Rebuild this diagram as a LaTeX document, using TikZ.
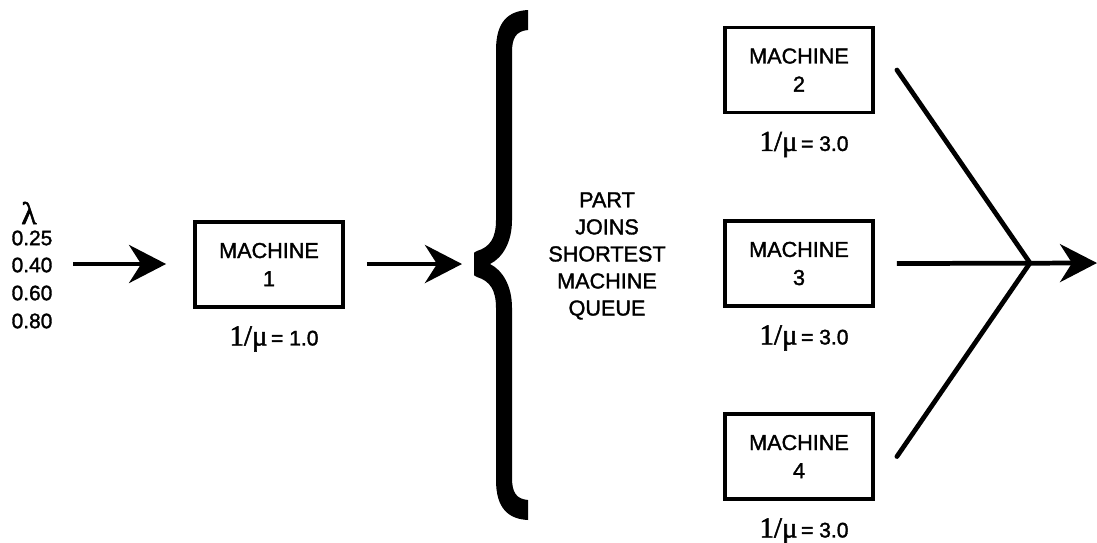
\documentclass[tikz,border=0pt]{standalone}
\usepackage{fontspec}
\setmainfont{Liberation Sans}[FakeBold=1.5]
\newfontfamily\greekfont{Liberation Serif}[FakeBold=1.8]
\usetikzlibrary{arrows.meta,positioning}
\newcommand\servetime[1]{{\greekfont\fontsize{16.5}{16}\selectfont 1/μ}\,{\fontsize{12}{12}\selectfont= #1}}

\begin{document}
\begin{tikzpicture}[x=0.02cm, y=-0.02cm, font=\fontsize{11.9}{14}\selectfont,
  Machine/.style={draw, line width=2.2pt, align=center, minimum width=2.96cm, minimum height=1.7cm, inner sep=0pt, font=\fontsize{12.3}{16}\selectfont},
  Rate/.style={inner sep=0pt, xshift=0.1cm},
  Flow/.style={-{Stealth[length=0.74cm, width=0.76cm, inset=0.24cm]}, line width=2.7pt},
  Branch/.style={line width=2.7pt, line cap=round}]

\useasboundingbox (0,0) rectangle (1097,542);

\node (lambda) at (29,213) {\greekfont\fontsize{18}{18}\selectfont λ};
\foreach \y/\v [count=\i] in {238/0.25, 265/0.40, 293/0.60, 321/0.80} {
  \node (arr\i) at (32,\y) {\v};
}

\node [Machine] (m1) at (269,264.5) {MACHINE\\1};
\foreach \i/\y in {2/70, 3/263.5, 4/456.5} {
  \node [Machine] (m\i) at (799,\y) {MACHINE\\\i};
}

\node [Rate, below=0.34cm of m1] (r1) {\servetime{1.0}};
\foreach \i in {2,3,4} {
  \node [Rate, below=0.34cm of m\i] (r\i) {\servetime{3.0}};
}

\coordinate (src) at (73,264);
\coordinate (split) at (475,264);
\coordinate (join) at (1030,263);
\coordinate (exit) at (1097,263);

\fill (528,10) .. controls (508,11) and (496,22) .. (496,50) -- (496,220) .. controls (496,238) and (490,247) .. (477,251)
  .. controls (474,252) and (474,252) .. (474,256) -- (474,272) .. controls (474,276) and (474,276) .. (477,277)
  .. controls (490,281) and (496,290) .. (496,308) -- (496,480) .. controls (496,508) and (508,519) .. (528,520)
  -- (528,500) .. controls (516,499) and (512,492) .. (512,478) -- (512,308) .. controls (512,285) and (502,270) .. (490,264)
  .. controls (502,258) and (512,243) .. (512,220) -- (512,52) .. controls (512,38) and (516,31) .. (528,30) -- cycle;

\node [align=center, font=\fontsize{12.3}{15.4}\selectfont] (rule) at (607,256) {PART\\JOINS\\SHORTEST\\MACHINE\\QUEUE};

\draw [Flow, shorten >=0.54cm] (src) -- (m1.west |- src);
\draw [Flow, shorten <=0.44cm, shorten >=0.26cm] (m1.east |- split) -- (split);
\draw [Branch] ([xshift=0.44cm]m2.east) -- (join) -- ([xshift=0.44cm]m4.east);
\draw [Flow] ([xshift=0.44cm]m3.east) -- (exit);
\end{tikzpicture}
\end{document}
